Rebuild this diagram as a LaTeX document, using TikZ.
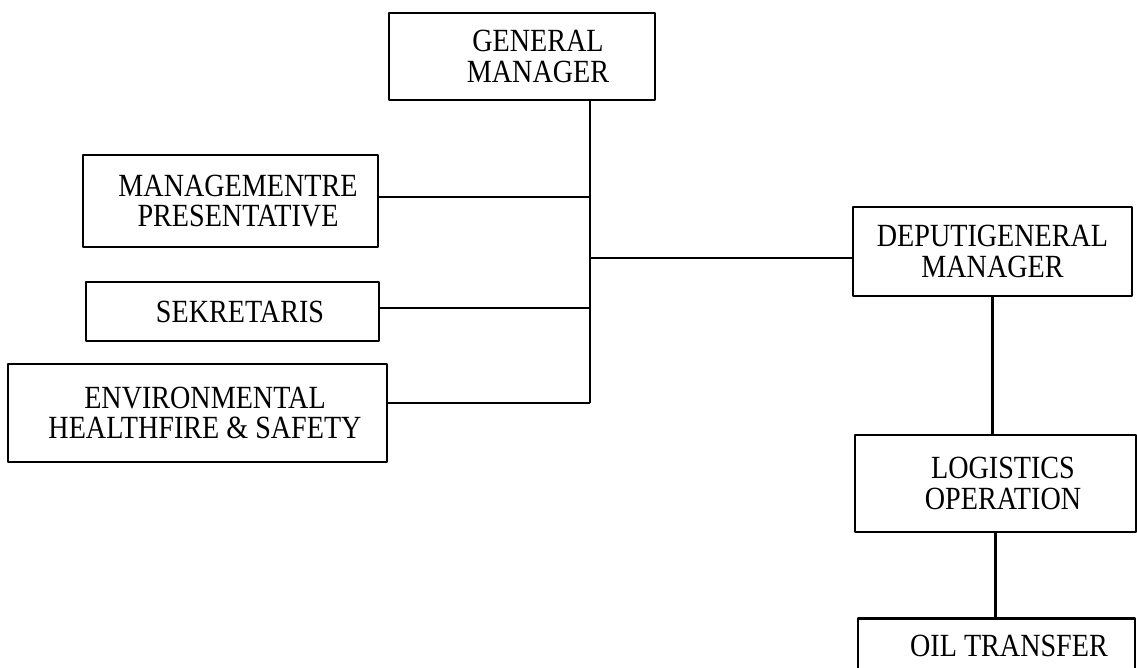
\documentclass[tikz,border=0pt]{standalone}
\usepackage{fontspec}
\setmainfont[FakeStretch=0.87]{Liberation Serif}
\tikzset{
  unit box/.style={draw, line width=1.6pt, align=center, inner sep=0pt,
    font=\fontsize{18.4}{17.5}\selectfont},
}
\begin{document}
\begin{tikzpicture}[x=0.02cm,y=-0.02cm,line join=round]
    \useasboundingbox (0,0) rectangle (1137,668);
    \clip (0,0) rectangle (1137,668);
      \node[unit box, minimum width=266*0.02cm, minimum height=87*0.02cm] (gm) at (522,56.5) {\hspace*{0.64cm}GENERAL\\\hspace*{0.64cm}MANAGER};
      \node[unit box, minimum width=295*0.02cm, minimum height=92*0.02cm] (mgr) at (230.5,201) {\hspace*{0.3cm}MANAGEMENTRE\\\hspace*{0.3cm}PRESENTATIVE};
      \node[unit box, minimum width=293*0.02cm, minimum height=59*0.02cm] (sek) at (232.5,311.5) {\hspace*{0.3cm}SEKRETARIS};
      \node[unit box, minimum width=379*0.02cm, minimum height=98*0.02cm] (env) at (197.5,413) {\hspace*{0.3cm}ENVIRONMENTAL\\\hspace*{0.3cm}HEALTHFIRE \& SAFETY};
      \node[unit box, minimum width=279*0.02cm, minimum height=89*0.02cm] (dep) at (992.5,251.5) {DEPUTIGENERAL\\MANAGER};
      \node[unit box, minimum width=281*0.02cm, minimum height=97*0.02cm] (log) at (995.5,483.5) {\hspace*{0.3cm}LOGISTICS\\\hspace*{0.3cm}OPERATION};
      \node[unit box, minimum width=277*0.02cm, minimum height=94*0.02cm, anchor=north] (oil) at (996.5,617) {\hspace*{0.5cm}OIL TRANSFER\\\strut};
      \coordinate (trunk) at (590,403);
      \coordinate (tmgr) at (590,197);
      \coordinate (tdep) at (590,258);
      \coordinate (tsek) at (590,308);
      \begin{scope}[line width=1.6pt]
        \draw (gm.south -| trunk) -- (trunk);
        \draw (mgr.east |- tmgr) -- (tmgr);
        \draw (sek.east |- tsek) -- (tsek);
        \draw (env.east |- trunk) -- (trunk);
        \draw (tdep) -- (dep.west |- tdep);
        \draw (dep.south) -- (dep.south |- log.north);
        \draw (log.south) -- (log.south |- oil.north);
      \end{scope}
\end{tikzpicture}
\end{document}
